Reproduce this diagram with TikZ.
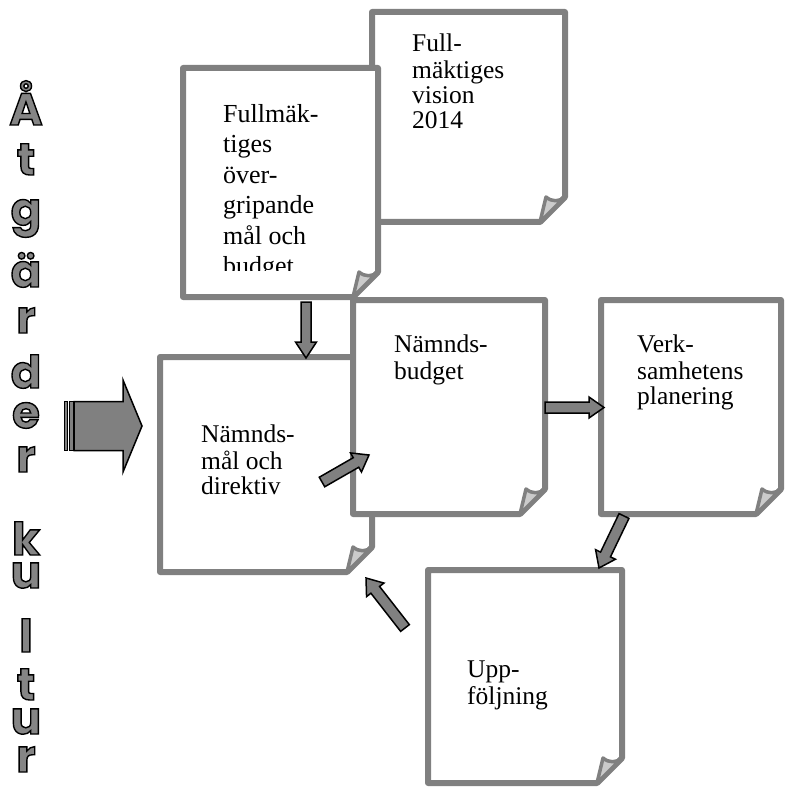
\documentclass[tikz,border=0pt]{standalone}
\usepackage{fontspec}
\setmainfont{Liberation Serif}
\newfontfamily\letterfont{Poppins}
\usetikzlibrary{calc}

\definecolor{pagegray}{HTML}{808080}
\definecolor{flapgray}{HTML}{CBCBCB}
\definecolor{arrowgray}{HTML}{808080}
\definecolor{lettergray}{HTML}{858585}

\tikzset{
  pagebox/.style={rectangle, inner sep=0pt, outer sep=0pt, anchor=north west},
  pageline/.style={draw=pagegray, line width=6pt, line join=round, fill=white},
  flap/.style={draw=pagegray, line width=3.5pt, line join=round, fill=flapgray},
  boxtext/.style={anchor=north west, inner sep=0pt, align=left, font=\fontsize{25.5}{25}\selectfont},
  vletter/.style={anchor=base, inner sep=0pt, text=lettergray, font=\letterfont\bfseries\fontsize{45}{45}\selectfont},
  blockarrow/.style={draw=black, fill=arrowgray, line width=1.5pt, line join=miter},
}

% page with folded corner, drawn round a node
\newcommand\foldpage[1]{%
  \path[pageline] (#1.north west) -- (#1.north east) -- ([yshift=25pt]#1.south east)
    -- ([xshift=-25pt]#1.south east) -- (#1.south west) -- cycle;
  \path[flap] ([yshift=25pt]#1.south east)
    .. controls ([xshift=-6pt,yshift=20pt]#1.south east) and ([xshift=-13pt,yshift=20pt]#1.south east)
    .. ([xshift=-19pt,yshift=25pt]#1.south east) -- ([xshift=-25pt]#1.south east) -- cycle;
}

% block arrow: tail, tip, shaft half width, head half width, head length
\newcommand\blockarrow[5]{%
  \coordinate (ahead) at ($(#2)!#5!(#1)$);
  \path[blockarrow] ($(#1)!#3!90:(#2)$) -- ($(ahead)!#3!90:(#2)$) -- ($(ahead)!#4!90:(#2)$)
    -- (#2) -- ($(ahead)!#4!-90:(#2)$) -- ($(ahead)!#3!-90:(#2)$) -- ($(#1)!#3!-90:(#2)$) -- cycle;
}

% outlined letter (fill and stroke)
\newcommand\outline[1]{\special{pdf:code q 0 0 0 RG 1.4 w 2 Tr}#1\special{pdf:code Q}}

\begin{document}
\begin{tikzpicture}[x=1pt, y=-1pt]
  \useasboundingbox (0,0) rectangle (784,791);

  % vertical title
  \foreach \c/\y [count=\i] in {Å/125, t/175, g/225, ä/287, r/333, d/388, e/428, r/472,
                                k/555, u/588, l/652, t/700, u/734, r/772}
    \node[vletter] (ltr\i) at (26,\y) {\outline{\c}};

  % upper pages
  \node[pagebox, minimum width=193pt, minimum height=210pt] (vision) at (372,12) {};
  \foldpage{vision}
  \node[boxtext] (visiontext) at (412,34) {\strut Full-\\mäktiges\\vision\\2014};

  \node[pagebox, minimum width=195pt, minimum height=229pt] (goals) at (183,68) {};
  \foldpage{goals}
  \begin{scope}
    \clip (goals.north west) rectangle ([yshift=27pt]goals.south east);
    \node[boxtext, font=\fontsize{26}{30.5}\selectfont] (goalstext) at (223,100.5)
      {\strut Fullmäk-\\tiges\\över-\\gripande\\mål och\\budget};
  \end{scope}

  % middle row
  \node[pagebox, minimum width=212pt, minimum height=215pt] (directive) at (160,357) {};
  \foldpage{directive}
  \node[boxtext] (directivetext) at (201,425) {\strut Nämnds-\\mål och\\direktiv};

  \node[pagebox, minimum width=192pt, minimum height=214pt] (budget) at (353,300) {};
  \foldpage{budget}
  \node[boxtext] (budgettext) at (394,335) {\strut Nämnds-\\budget};

  \node[pagebox, minimum width=180pt, minimum height=214pt] (planning) at (601,300) {};
  \foldpage{planning}
  \node[boxtext] (planningtext) at (637,335) {\strut Verk-\\samhetens\\planering};

  % bottom
  \node[pagebox, minimum width=194pt, minimum height=213pt] (followup) at (428,570) {};
  \foldpage{followup}
  \node[boxtext] (followuptext) at (467,660) {\strut Upp-\\följning};

  % arrows
  \coordinate (bigtail) at (74,426);
  \coordinate (bigtip) at (142,426);
  \path[blockarrow, line width=1pt] (64,401.5) rectangle (67,450.5);
  \path[blockarrow, line width=1pt] (69,401.5) rectangle (73,450.5);
  \blockarrow{bigtail}{bigtip}{24.5pt}{46pt}{19pt}

  \coordinate (downtail) at (306,302);
  \coordinate (downtip) at (306,358);
  \blockarrow{downtail}{downtip}{5pt}{10.5pt}{16pt}

  \coordinate (uptail) at (322,482);
  \coordinate (uptip) at (369,455);
  \blockarrow{uptail}{uptip}{5.5pt}{11pt}{15pt}

  \coordinate (righttail) at (545,407.5);
  \coordinate (righttip) at (604,407.5);
  \blockarrow{righttail}{righttip}{5.5pt}{10.5pt}{15pt}

  \coordinate (dltail) at (624,516);
  \coordinate (dltip) at (599,568);
  \blockarrow{dltail}{dltip}{5.5pt}{11pt}{15pt}

  \coordinate (backtail) at (405,628);
  \coordinate (backtip) at (366,578);
  \blockarrow{backtail}{backtip}{5.5pt}{11pt}{15pt}
\end{tikzpicture}
\end{document}
